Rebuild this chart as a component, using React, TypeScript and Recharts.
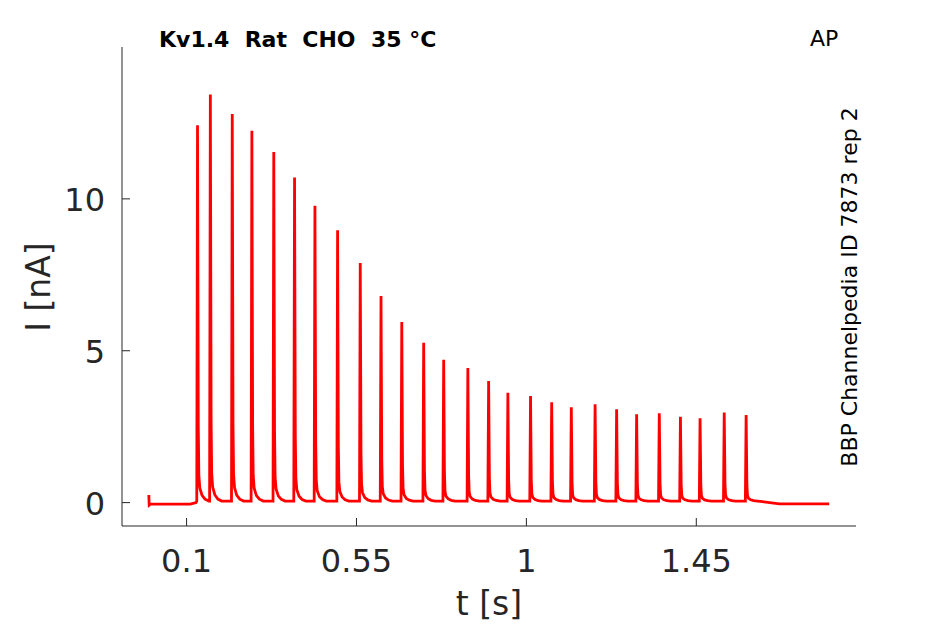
import { LineChart, Line, XAxis, YAxis } from "recharts";

// spike onset times [s] and peak currents [nA]
const spikeTimes = [
  0.129, 0.163, 0.221, 0.273, 0.331, 0.386, 0.44, 0.5, 0.56, 0.615, 0.67, 0.728, 0.781, 0.845,
  0.9, 0.951, 1.011, 1.067, 1.119, 1.182, 1.239, 1.292, 1.352, 1.408, 1.46, 1.524, 1.582,
];
const spikePeaks = [
  12.42, 13.44, 12.79, 12.24, 11.54, 10.7, 9.77, 8.97, 7.89, 6.8, 5.95, 5.26, 4.7, 4.43,
  4.0, 3.62, 3.51, 3.3, 3.14, 3.24, 3.07, 2.91, 2.94, 2.83, 2.78, 2.97, 2.88,
];

// shape of one spike: time offset from onset and fraction of the peak
const shapeDt = [-0.002, 0, 0.001, 0.002, 0.0035, 0.006, 0.012, 0.02, 0.03];
const shapeFrac = [0, 1, 0.6, 0.2, 0.07, 0.035, 0.015, 0.005, 0];

const interBaseline = 0.05;

// trace before the first and after the last spike
const leadTrace = [
  { t: 0, i: 0.25 },
  { t: 0.001, i: -0.08 },
  { t: 0.004, i: -0.05 },
  { t: 0.11, i: -0.05 },
  { t: 0.125, i: 0.0 },
];
const tailTrace = [
  { t: 1.62, i: 0.04 },
  { t: 1.67, i: -0.04 },
  { t: 1.802, i: -0.04 },
];

const xTicks = [0.1, 0.55, 1, 1.45];
const yTicks = [0, 5, 10];

const trace = [
  ...leadTrace,
  ...spikeTimes.flatMap((t0, k) =>
    shapeDt.map((dt, j) => ({
      t: t0 + dt,
      i: interBaseline + shapeFrac[j] * (spikePeaks[k] - interBaseline),
    }))
  ),
  ...tailTrace,
];

const axisColor = "#262626";
const font = "DejaVu Sans";

const XTick = (props: any) => {
  const { x, y, payload } = props;
  return (
    <g>
      <line x1={x} x2={x} y1={y} y2={y - 8} stroke={axisColor} strokeWidth={1} />
      <text x={x} y={y + 46} textAnchor="middle" fontFamily={font} fontSize={32} fill={axisColor}>
        {payload.value}
      </text>
    </g>
  );
};

const YTick = (props: any) => {
  const { x, y, payload } = props;
  return (
    <g>
      <line x1={x} x2={x + 8} y1={y} y2={y} stroke={axisColor} strokeWidth={1} />
      <text x={x - 17} y={y + 12} textAnchor="end" fontFamily={font} fontSize={32} fill={axisColor}>
        {payload.value}
      </text>
    </g>
  );
};

export default function App() {
  return (
    <div style={{ position: "absolute", left: 0, top: 0, width: 945, height: 624, background: "#fff" }}>
      <LineChart width={945} height={624} data={trace} margin={{ top: 47, right: 89, bottom: 0, left: 0 }}>
        <XAxis
          type="number"
          dataKey="t"
          domain={[-0.071, 1.873]}
          allowDataOverflow
          ticks={xTicks}
          height={98}
          tickSize={0}
          tickMargin={0}
          tickLine={false}
          axisLine={{ stroke: axisColor, strokeWidth: 1 }}
          tick={XTick}
          interval={0}
        />
        <YAxis
          type="number"
          domain={[-0.77, 15]}
          allowDataOverflow
          ticks={yTicks}
          width={122}
          tickSize={0}
          tickMargin={0}
          tickLine={false}
          axisLine={{ stroke: axisColor, strokeWidth: 1 }}
          tick={YTick}
          interval={0}
        />
        <Line
          type="linear"
          dataKey="i"
          stroke="#ff0000"
          strokeWidth={2.8}
          dot={false}
          isAnimationActive={false}
        />
      </LineChart>
      <svg width={945} height={624} style={{ position: "absolute", left: 0, top: 0, pointerEvents: "none" }}>
        <text x={159} y={47} fontFamily={font} fontSize={22} fontWeight="bold" fill="#000" style={{ whiteSpace: "pre" }}>
          {"Kv1.4  Rat  CHO  35 °C"}
        </text>
        <text x={810} y={46} fontFamily={font} fontSize={22} fill="#000">
          AP
        </text>
        <text
          x={857}
          y={287}
          textAnchor="middle"
          fontFamily={font}
          fontSize={22}
          fill="#000"
          transform="rotate(-90 857 287)"
        >
          BBP Channelpedia ID 7873 rep 2
        </text>
        <text x={489} y={615} textAnchor="middle" fontFamily={font} fontSize={33} fill={axisColor}>
          t [s]
        </text>
        <text
          x={50}
          y={287}
          textAnchor="middle"
          fontFamily={font}
          fontSize={33}
          fill={axisColor}
          transform="rotate(-90 50 287)"
        >
          I [nA]
        </text>
      </svg>
    </div>
  );
}
